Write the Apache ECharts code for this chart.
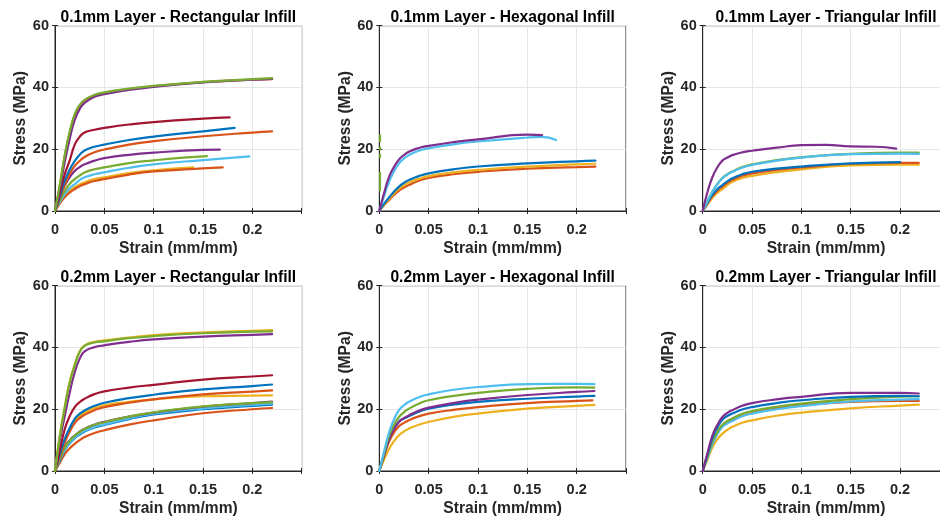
<!DOCTYPE html>
<html><head><meta charset="utf-8">
<script src="https://cdn.jsdelivr.net/npm/echarts@6/dist/echarts.min.js"></script>
<style>html,body{margin:0;padding:0;background:#fff}#c{width:940px;height:519px}</style>
</head><body><div id="c"></div>
<script>
// ---------- text & ticks ----------
const panelTitles = [
  '0.1mm Layer - Rectangular Infill', '0.1mm Layer - Hexagonal Infill', '0.1mm Layer - Triangular Infill',
  '0.2mm Layer - Rectangular Infill', '0.2mm Layer - Hexagonal Infill', '0.2mm Layer - Triangular Infill'
];
const xName = 'Strain (mm/mm)';
const yName = 'Stress (MPa)';
const xTicks = [0, 0.05, 0.1, 0.15, 0.2];
const xTickLabels = ['0', '0.05', '0.1', '0.15', '0.2'];
const yTickLabels = ['0', '20', '40', '60'];

// ---------- data: [strain, stress] ----------
// 0.1mm Rectangular
const r1OrangeTop = [[0,0],[0.005,8.5],[0.01,18],[0.015,25.5],[0.02,31],[0.025,34],[0.03,35.8],[0.04,37.4],[0.05,38.3],[0.075,39.5],[0.1,40.4],[0.15,41.7],[0.2,42.5],[0.22,42.7]];
const r1PurpleTop = [[0,0],[0.005,7.5],[0.01,16],[0.015,23.5],[0.02,29.5],[0.025,33],[0.03,35],[0.04,37],[0.05,37.8],[0.075,39.2],[0.1,40.2],[0.15,41.6],[0.2,42.5],[0.22,42.8]];
const r1GreenTop = [[0,0],[0.005,8.7],[0.01,18.3],[0.015,25.8],[0.02,31.4],[0.025,34.3],[0.03,36],[0.04,37.6],[0.05,38.4],[0.075,39.6],[0.1,40.5],[0.15,41.8],[0.2,42.7],[0.22,43.0]];
const r1DarkRed = [[0,0],[0.005,6],[0.01,12],[0.015,16.5],[0.02,21.5],[0.025,24],[0.03,25.4],[0.04,26.3],[0.05,26.9],[0.075,28],[0.1,28.8],[0.15,29.9],[0.177,30.3]];
const r1Blue = [[0,0],[0.005,5],[0.01,9.8],[0.015,13.5],[0.02,16.2],[0.025,18.2],[0.03,19.6],[0.04,20.8],[0.05,21.5],[0.075,23],[0.1,24.1],[0.15,25.8],[0.182,26.9]];
const r1Orange = [[0,0],[0.005,4.5],[0.01,8.5],[0.015,12],[0.02,14.6],[0.025,16.2],[0.03,17.5],[0.04,19],[0.05,19.9],[0.075,21.5],[0.1,22.6],[0.15,24.2],[0.2,25.4],[0.22,25.8]];
const r1Purple = [[0,0],[0.005,4.5],[0.01,8.3],[0.015,11],[0.02,13],[0.025,14.2],[0.03,15.1],[0.04,16.3],[0.05,17.1],[0.075,18.2],[0.1,18.9],[0.15,19.8],[0.167,19.9]];
const r1Green = [[0,0],[0.005,3.5],[0.01,6.5],[0.015,8.8],[0.02,10.3],[0.025,11.5],[0.03,12.5],[0.04,13.5],[0.05,14.1],[0.075,15.5],[0.1,16.4],[0.13,17.3],[0.154,17.8]];
const r1LightBlue = [[0,0],[0.005,3],[0.01,5.5],[0.015,7.4],[0.02,8.7],[0.025,10],[0.03,10.9],[0.04,11.9],[0.05,12.5],[0.075,14],[0.1,15.1],[0.15,16.5],[0.197,17.7]];
const r1OrangeLow = [[0,0],[0.005,2.5],[0.01,4.5],[0.015,6],[0.02,7.1],[0.025,8],[0.03,8.7],[0.04,9.7],[0.05,10.3],[0.075,11.8],[0.1,12.8],[0.15,13.8],[0.17,14.1]];
const r1Yellow = [[0,0],[0.005,2.8],[0.01,5],[0.015,6.6],[0.02,7.7],[0.025,8.6],[0.03,9.3],[0.04,10.3],[0.05,10.9],[0.075,12.3],[0.1,13.2],[0.14,14.1]];

// 0.1mm Hexagonal
const h1Orange = [[0,0],[0.005,1.9],[0.01,3.6],[0.015,5.2],[0.02,6.6],[0.025,7.6],[0.03,8.4],[0.04,9.8],[0.05,10.7],[0.075,11.9],[0.1,12.7],[0.15,13.7],[0.2,14.2],[0.219,14.4]];
const h1Yellow = [[0,0],[0.005,2.1],[0.01,4],[0.015,5.7],[0.02,7.2],[0.025,8.3],[0.03,9.2],[0.04,10.4],[0.05,11.3],[0.075,12.5],[0.1,13.3],[0.15,14.4],[0.2,15.1],[0.219,15.3]];
const h1Blue = [[0,0],[0.005,2.4],[0.01,4.4],[0.015,6.3],[0.02,7.9],[0.025,9.1],[0.03,10],[0.04,11.3],[0.05,12.2],[0.075,13.5],[0.1,14.4],[0.15,15.4],[0.2,16.1],[0.219,16.3]];
const h1LightBlue = [[0,0],[0.005,5],[0.01,9.5],[0.015,12.9],[0.02,15.4],[0.025,17],[0.03,18.1],[0.04,19.5],[0.05,20.3],[0.075,21.6],[0.1,22.5],[0.15,23.8],[0.165,24],[0.179,23.0]];
const h1Purple = [[0,0],[0.005,6],[0.01,11.1],[0.015,14.3],[0.02,16.7],[0.025,18.1],[0.03,19.2],[0.04,20.4],[0.05,21.1],[0.075,22.3],[0.1,23.2],[0.15,24.7],[0.165,24.6]];
const h1GreenStrain = 0.0008;
const h1GreenSegments = [[24.8,22.3],[20.9,19.7],[18.6,17.2],[12.6,6.4]];

// 0.1mm Triangular
const t1Yellow = [[0,0],[0.005,2.2],[0.01,4.3],[0.015,5.9],[0.02,7.1],[0.025,8.4],[0.03,9.5],[0.04,10.7],[0.05,11.4],[0.075,12.6],[0.1,13.5],[0.15,14.8],[0.2,15],[0.219,15.0]];
const t1Orange = [[0,0],[0.005,2.5],[0.01,4.9],[0.015,6.6],[0.02,7.9],[0.025,9.1],[0.03,10.1],[0.04,11.4],[0.05,12.2],[0.075,13.3],[0.1,14.1],[0.15,15.3],[0.2,15.6],[0.219,15.6]];
const t1Blue = [[0,0],[0.005,2.8],[0.01,5.3],[0.015,7.1],[0.02,8.4],[0.025,9.6],[0.03,10.6],[0.04,11.9],[0.05,12.7],[0.075,13.7],[0.1,14.4],[0.15,15.4],[0.2,15.8]];
const t1Green = [[0,0],[0.005,3.3],[0.01,6.4],[0.015,8.8],[0.02,10.7],[0.025,11.9],[0.03,12.8],[0.04,14.2],[0.05,15.1],[0.075,16.5],[0.1,17.4],[0.15,18.5],[0.2,18.9],[0.219,18.9]];
const t1LightBlue = [[0,0],[0.005,3.3],[0.01,6.3],[0.015,8.7],[0.02,10.6],[0.025,11.8],[0.03,12.7],[0.04,14],[0.05,14.9],[0.075,16.3],[0.1,17.3],[0.15,18.4],[0.2,18.6],[0.219,18.5]];
const t1Purple = [[0,0],[0.005,6.3],[0.01,11.1],[0.015,14.2],[0.02,16.3],[0.025,17.3],[0.03,18.1],[0.04,19],[0.05,19.5],[0.075,20.5],[0.1,21.3],[0.125,21.4],[0.15,20.9],[0.175,20.8],[0.196,20.2]];

// 0.2mm Rectangular
const r2OrangeLow = [[0,0],[0.005,2.8],[0.01,5.5],[0.015,7.4],[0.02,8.8],[0.025,10],[0.03,11],[0.04,12.3],[0.05,13.2],[0.075,15],[0.1,16.4],[0.15,18.7],[0.2,20],[0.22,20.4]];
const r2BlueLow = [[0,0],[0.005,3.5],[0.01,6.8],[0.015,9],[0.02,10.6],[0.025,11.8],[0.03,12.8],[0.04,14.1],[0.05,14.9],[0.075,16.8],[0.1,18.3],[0.15,20],[0.2,21.1],[0.22,21.5]];
const r2LightBlue = [[0,0],[0.005,3.6],[0.01,7],[0.015,9.2],[0.02,10.8],[0.025,12],[0.03,13],[0.04,14.3],[0.05,15.1],[0.075,17],[0.1,18.6],[0.15,20.3],[0.2,21.4],[0.22,21.8]];
const r2Purple = [[0,0],[0.005,4],[0.01,7.8],[0.015,10],[0.02,11.5],[0.025,12.7],[0.03,13.7],[0.04,15],[0.05,15.9],[0.075,17.6],[0.1,18.9],[0.15,20.8],[0.2,22],[0.22,22.5]];
const r2Green = [[0,0],[0.005,4],[0.01,7.6],[0.015,9.8],[0.02,11.4],[0.025,12.6],[0.03,13.6],[0.04,15],[0.05,15.8],[0.075,17.6],[0.1,19],[0.15,20.9],[0.2,22],[0.22,22.3]];
const r2Yellow = [[0,0],[0.005,5],[0.01,9.8],[0.015,13.4],[0.02,16.1],[0.025,17.8],[0.03,18.9],[0.04,20.4],[0.05,21.3],[0.075,22.4],[0.1,23.2],[0.15,24.2],[0.2,24.4],[0.22,24.5]];
const r2Orange = [[0,0],[0.005,4.8],[0.01,9.3],[0.015,12.8],[0.02,15.5],[0.025,17.1],[0.03,18.2],[0.04,19.7],[0.05,20.7],[0.075,22.1],[0.1,23.2],[0.15,24.8],[0.2,25.7],[0.22,26.1]];
const r2Blue = [[0,0],[0.005,5.5],[0.01,10.5],[0.015,14],[0.02,16.9],[0.025,18.5],[0.03,19.6],[0.04,21.1],[0.05,22.1],[0.075,23.6],[0.1,24.7],[0.15,26.4],[0.2,27.5],[0.22,28]];
const r2DarkRed = [[0,0],[0.005,7],[0.01,13.7],[0.015,17.8],[0.02,20.7],[0.025,22.3],[0.03,23.4],[0.04,24.9],[0.05,25.8],[0.075,27],[0.1,27.9],[0.15,29.6],[0.2,30.6],[0.22,31]];
const r2PurpleTop = [[0,0],[0.005,10],[0.01,18],[0.015,25.5],[0.02,32],[0.025,36.3],[0.03,38.7],[0.04,40.1],[0.05,40.7],[0.075,41.8],[0.1,42.6],[0.15,43.5],[0.2,44.1],[0.22,44.3]];
const r2YellowTop = [[0,0],[0.005,11.8],[0.01,21],[0.015,29],[0.02,34.5],[0.025,38.7],[0.03,40.7],[0.04,41.8],[0.05,42.3],[0.075,43.2],[0.1,44],[0.15,44.9],[0.2,45.4],[0.22,45.6]];
const r2GreenTop = [[0,0],[0.005,11.5],[0.01,20.7],[0.015,28.8],[0.02,34.2],[0.025,38.5],[0.03,40.5],[0.04,41.6],[0.05,42],[0.075,43],[0.1,43.7],[0.15,44.6],[0.2,45.1],[0.22,45.2]];

// 0.2mm Hexagonal
const h2Yellow = [[0,0],[0.005,3.8],[0.01,7.2],[0.015,9.7],[0.02,11.6],[0.025,12.8],[0.03,13.7],[0.04,15],[0.05,15.9],[0.075,17.5],[0.1,18.6],[0.15,20.2],[0.2,21.1],[0.218,21.4]];
const h2Orange = [[0,0],[0.005,5],[0.01,9.6],[0.015,12.5],[0.02,14.5],[0.025,15.6],[0.03,16.4],[0.04,17.7],[0.05,18.6],[0.075,19.8],[0.1,20.7],[0.15,22],[0.2,22.7],[0.216,22.9]];
const h2Blue = [[0,0],[0.005,5.5],[0.01,10.5],[0.015,13.8],[0.02,16],[0.025,17],[0.03,17.7],[0.04,19.2],[0.05,20.2],[0.075,21.5],[0.1,22.4],[0.15,23.4],[0.2,24.1],[0.218,24.3]];
const h2Purple = [[0,0],[0.005,5.5],[0.01,10.5],[0.015,13.6],[0.02,15.9],[0.025,17.1],[0.03,18],[0.04,19.5],[0.05,20.5],[0.075,22],[0.1,23.1],[0.15,24.6],[0.2,25.6],[0.218,25.9]];
const h2Green = [[0,0],[0.005,6],[0.01,11.5],[0.015,15],[0.02,17.5],[0.025,19],[0.03,20.2],[0.04,21.8],[0.05,22.9],[0.075,24.3],[0.1,25.3],[0.15,26.6],[0.2,27.1],[0.218,27.0]];
const h2LightBlue = [[0,0],[0.005,6.5],[0.01,12.6],[0.015,16.8],[0.02,19.7],[0.025,21.3],[0.03,22.4],[0.04,23.9],[0.05,24.8],[0.075,26.3],[0.1,27.2],[0.15,28.1],[0.2,28.2],[0.218,28.1]];

// 0.2mm Triangular
const t2Yellow = [[0,0],[0.005,3.8],[0.01,7.8],[0.015,10.3],[0.02,12.1],[0.025,13.3],[0.03,14.3],[0.04,15.6],[0.05,16.4],[0.075,17.9],[0.1,18.9],[0.15,20.3],[0.2,21.2],[0.219,21.5]];
const t2Orange = [[0,0],[0.005,4.8],[0.01,9.2],[0.015,12.3],[0.02,14.5],[0.025,15.7],[0.03,16.5],[0.04,17.9],[0.05,18.8],[0.075,20.3],[0.1,21.3],[0.15,22.4],[0.2,22.7],[0.219,22.7]];
const t2LightBlue = [[0,0],[0.005,4.5],[0.01,8.8],[0.015,12],[0.02,14.3],[0.025,15.4],[0.03,16.2],[0.04,17.7],[0.05,18.6],[0.075,20],[0.1,21],[0.15,22.5],[0.2,23.1],[0.219,23.3]];
const t2Green = [[0,0],[0.005,5],[0.01,9.6],[0.015,12.8],[0.02,15],[0.025,16.2],[0.03,17],[0.04,18.5],[0.05,19.4],[0.075,20.8],[0.1,21.8],[0.15,23.3],[0.2,24.1],[0.219,24.2]];
const t2Blue = [[0,0],[0.005,5.5],[0.01,10.8],[0.015,14.2],[0.02,16.6],[0.025,17.8],[0.03,18.6],[0.04,19.9],[0.05,20.7],[0.075,22],[0.1,22.9],[0.15,24],[0.2,24.3],[0.219,24.2]];
const t2Purple = [[0,0],[0.005,6],[0.01,11.6],[0.015,15],[0.02,17.5],[0.025,18.8],[0.03,19.7],[0.04,21.1],[0.05,22],[0.075,23.2],[0.1,24],[0.15,25.3],[0.2,25.3],[0.219,25.1]];

// ---------- styling ----------
const C = { blue:'#0072BD', orange:'#D95319', yellow:'#EDB120', purple:'#7E2F8E', green:'#77AC30', lightBlue:'#4DBEEE', darkRed:'#A2142F' };

const panelSeries = [
  [['yellow', r1Yellow],['orange', r1OrangeLow],['lightBlue', r1LightBlue],['green', r1Green],['purple', r1Purple],['orange', r1Orange],['blue', r1Blue],['darkRed', r1DarkRed],['orange', r1OrangeTop],['purple', r1PurpleTop],['green', r1GreenTop]],
  [['orange', h1Orange],['yellow', h1Yellow],['blue', h1Blue],['lightBlue', h1LightBlue],['purple', h1Purple]],
  [['yellow', t1Yellow],['orange', t1Orange],['blue', t1Blue],['green', t1Green],['lightBlue', t1LightBlue],['purple', t1Purple]],
  [['orange', r2OrangeLow],['blue', r2BlueLow],['lightBlue', r2LightBlue],['purple', r2Purple],['green', r2Green],['yellow', r2Yellow],['orange', r2Orange],['blue', r2Blue],['darkRed', r2DarkRed],['purple', r2PurpleTop],['yellow', r2YellowTop],['green', r2GreenTop]],
  [['yellow', h2Yellow],['orange', h2Orange],['blue', h2Blue],['purple', h2Purple],['green', h2Green],['lightBlue', h2LightBlue]],
  [['yellow', t2Yellow],['orange', t2Orange],['lightBlue', t2LightBlue],['green', t2Green],['blue', t2Blue],['purple', t2Purple]]
];

const lefts = [55, 379.3, 702.7];
const tops = [25.7, 285.7];
const W = 246.7, H = 185.3;
const AX = '#262626';
const FONT = 'Liberation Sans, Arial, sans-serif';
const BIG = 15.6, TICK = 14.5;

const grid = [], xAxis = [], yAxis = [], series = [], title = [];
for (let p = 0; p < 6; p++) {
  const col = p % 3, row = Math.floor(p / 3);
  grid.push({ left: lefts[col], top: tops[row], width: W, height: H, show: true, borderColor: AX, borderWidth: 1,
    containLabel: false, outerBoundsMode: 'none' });
  title.push({ text: panelTitles[p], left: lefts[col] + W / 2, top: tops[row] - 16, textAlign: 'center', padding: 0,
    textStyle: { fontFamily: FONT, fontSize: BIG, fontWeight: 'bold', color: '#000' } });
  const axisCommon = { type: 'value', gridIndex: p, min: 0 };
  xAxis.push(Object.assign({}, axisCommon, {
    max: 0.25, interval: 0.05, position: 'bottom',
    name: xName, nameLocation: 'middle', nameGap: 29.5,
    nameTextStyle: { fontFamily: FONT, fontSize: BIG, fontWeight: 'bold', color: AX },
    axisLine: { show: true, lineStyle: { color: AX, width: 1 } },
    axisTick: { show: true, inside: true, length: 3, lineStyle: { color: AX } },
    axisLabel: { margin: 11.5, fontFamily: FONT, fontSize: TICK, fontWeight: 'bold', color: AX,
      formatter: v => { const i = xTicks.findIndex(t => Math.abs(t - v) < 1e-9); return i >= 0 ? xTickLabels[i] : ''; } },
    splitLine: { show: true, lineStyle: { color: '#e6e6e6', width: 1 } }
  }));
  xAxis.push(Object.assign({}, axisCommon, {
    max: 0.25, interval: 0.05, position: 'top',
    axisLine: { show: true, lineStyle: { color: AX, width: 1 } },
    axisTick: { show: true, inside: true, length: 3, lineStyle: { color: AX } },
    axisLabel: { show: false }, splitLine: { show: false }
  }));
  yAxis.push(Object.assign({}, axisCommon, {
    max: 60, interval: 20, position: 'left',
    name: yName, nameLocation: 'middle', nameGap: 21, nameRotate: 90,
    nameTextStyle: { fontFamily: FONT, fontSize: BIG, fontWeight: 'bold', color: AX },
    axisLine: { show: true, lineStyle: { color: AX, width: 1 } },
    axisTick: { show: true, inside: true, length: 3, lineStyle: { color: AX } },
    axisLabel: { margin: 6, fontFamily: FONT, fontSize: TICK, fontWeight: 'bold', color: AX,
      formatter: v => yTickLabels[Math.round(v / 20)] },
    splitLine: { show: true, lineStyle: { color: '#e6e6e6', width: 1 } }
  }));
  yAxis.push(Object.assign({}, axisCommon, {
    max: 60, interval: 20, position: 'right',
    axisLine: { show: true, lineStyle: { color: AX, width: 1 } },
    axisTick: { show: true, inside: true, length: 3, lineStyle: { color: AX } },
    axisLabel: { show: false }, splitLine: { show: false }
  }));
  for (const [c, d] of panelSeries[p]) {
    series.push({ type: 'line', xAxisIndex: 2 * p, yAxisIndex: 2 * p, data: d, showSymbol: false,
      smooth: 0.5, lineStyle: { color: C[c], width: 2.2, cap: 'round', join: 'round' }, itemStyle: { color: C[c] }, z: 3 });
  }
}
// green near-vertical broken trace in 0.1mm Hexagonal panel
for (const [a, b] of h1GreenSegments) {
  series.push({ type: 'line', xAxisIndex: 2, yAxisIndex: 2, data: [[h1GreenStrain, a], [h1GreenStrain, b]],
    showSymbol: false, lineStyle: { color: C.green, width: 2 }, z: 3 });
}

const chart = echarts.init(document.getElementById('c'), null, { renderer: 'canvas' });
chart.setOption({ animation: false, backgroundColor: '#fff', title, grid, xAxis, yAxis, series });
</script></body></html>
